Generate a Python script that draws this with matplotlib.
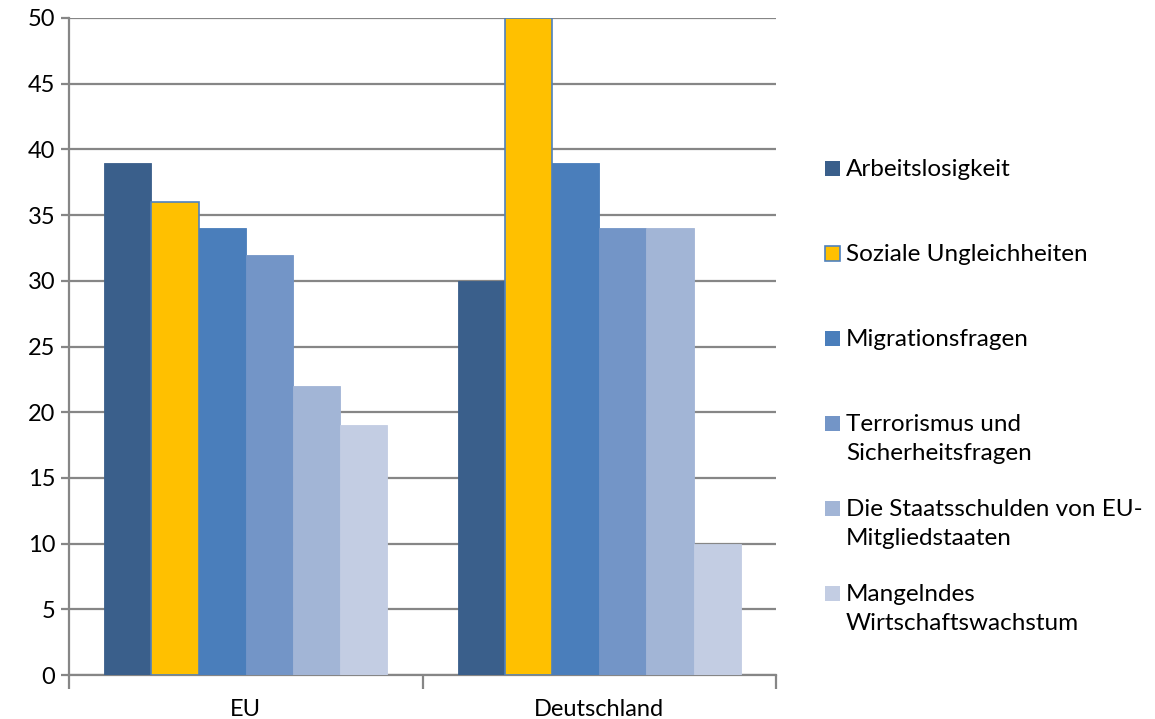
import matplotlib.pyplot as plt
import numpy as np
from matplotlib.patches import Rectangle

plt.rcParams['font.family'] = ['Lato', 'DejaVu Sans']

categories = ['EU', 'Deutschland']
series_names = ['Arbeitslosigkeit',
                'Soziale Ungleichheiten',
                'Migrationsfragen',
                'Terrorismus und\nSicherheitsfragen',
                'Die Staatsschulden von EU-\nMitgliedstaaten',
                'Mangelndes\nWirtschaftswachstum']
values = [[39, 30],
          [36, 50],
          [34, 39],
          [32, 34],
          [22, 34],
          [19, 10]]
colors = ['#3A5F8B', '#FFC000', '#4A7EBB', '#7395C7', '#A2B5D6', '#C3CDE3']
edges = ['#3A5F8B', '#4F81BD', '#4A7EBB', '#7395C7', '#A2B5D6', '#C3CDE3']
yticks = [0, 5, 10, 15, 20, 25, 30, 35, 40, 45, 50]

fig = plt.figure(figsize=(11.55, 7.19), dpi=100)
ax = fig.add_axes([69/1155, 1 - 675/719, (776 - 69)/1155, (675 - 18)/719])

x = np.arange(len(categories))
width = 0.8 / len(series_names)
for i, (name, vals) in enumerate(zip(series_names, values)):
    offs = (i - (len(series_names) - 1) / 2) * width
    ax.bar(x + offs, vals, width, color=colors[i], edgecolor=edges[i],
           linewidth=1.2 if i == 1 else 0.6, zorder=3)

ax.set_xlim(-0.5, 1.5)
ax.set_ylim(0, 50)
ax.set_yticks(yticks)
ax.yaxis.grid(True, color='#868686', linewidth=1.6, zorder=0)
for s in ['top', 'right']:
    ax.spines[s].set_visible(False)
for s in ['left', 'bottom']:
    ax.spines[s].set_color('#868686')
    ax.spines[s].set_linewidth(1.6)
ax.tick_params(axis='y', direction='out', length=6, width=1.6, color='#868686',
               labelsize=17, pad=4)
# category ticks sit on the group boundaries
ax.set_xticks([-0.5, 0.5, 1.5])
ax.set_xticklabels([])
ax.set_xticks(x, minor=True)
ax.set_xticklabels(categories, minor=True)
ax.tick_params(axis='x', which='major', direction='out', length=10, width=1.6,
               color='#868686')
ax.tick_params(axis='x', which='minor', length=0, labelsize=17, pad=17)

# legend drawn by hand so multi-line entries keep the handle at the first line
for i, name in enumerate(series_names):
    ytop = 168 + 85 * i
    fig.add_artist(Rectangle((825/1155, 1 - (ytop + 8)/719), 15/1155, 15/719,
                             transform=fig.transFigure, facecolor=colors[i],
                             edgecolor=edges[i], linewidth=1.2 if i == 1 else 0))
    fig.text(846/1155, 1 - (ytop - 9)/719, name, fontsize=17.5, va='top',
             ha='left', linespacing=1.45)

fig.savefig('out.png', dpi=100)
